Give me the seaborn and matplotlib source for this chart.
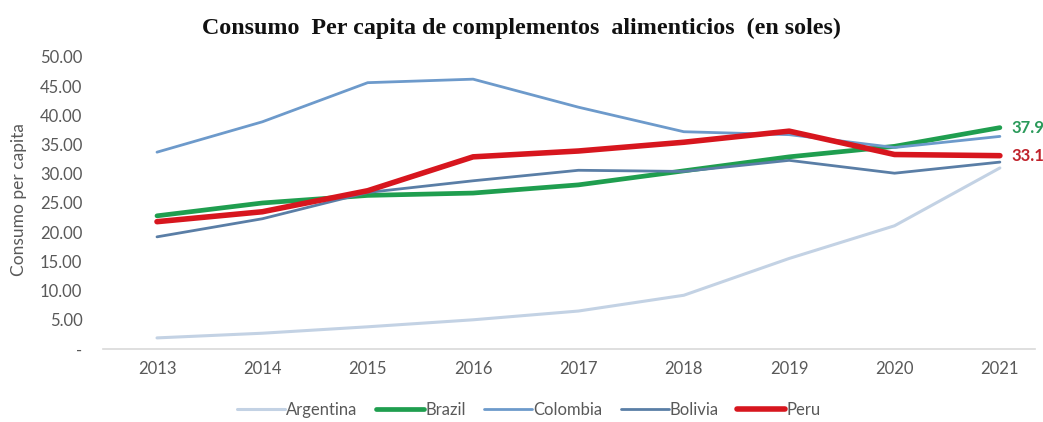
import matplotlib
matplotlib.use("Agg")
import matplotlib.pyplot as plt
import seaborn as sns
import pandas as pd

years = [2013, 2014, 2015, 2016, 2017, 2018, 2019, 2020, 2021]
argentina = [1.9, 2.7, 3.8, 5.0, 6.5, 9.2, 15.5, 21.1, 31.0]
brazil = [22.8, 25.0, 26.3, 26.7, 28.1, 30.5, 32.9, 34.7, 37.9]
colombia = [33.7, 38.9, 45.6, 46.2, 41.4, 37.2, 36.7, 34.5, 36.4]
bolivia = [19.2, 22.3, 26.8, 28.8, 30.6, 30.4, 32.3, 30.1, 32.0]
peru = [21.8, 23.5, 27.1, 32.9, 33.9, 35.4, 37.3, 33.3, 33.1]

series_names = ["Argentina", "Brazil", "Colombia", "Bolivia", "Peru"]
series_values = [argentina, brazil, colombia, bolivia, peru]
colors = ["#c3d2e4", "#1f9e4f", "#6d9acb", "#5a7ea6", "#d7161e"]
widths = [2.2, 3.4, 2.0, 2.0, 4.0]

title = "Consumo  Per capita de complementos  alimenticios  (en soles)"
y_label = "Consumo per capita"
y_ticks = [0, 5, 10, 15, 20, 25, 30, 35, 40, 45, 50]
y_tick_labels = ["-", "5.00", "10.00", "15.00", "20.00", "25.00", "30.00",
                 "35.00", "40.00", "45.00", "50.00"]

df = pd.DataFrame({
    "year": years * len(series_names),
    "value": sum(series_values, []),
    "country": [n for n in series_names for _ in years],
})

sns.set_theme(style="white")
plt.rcParams["font.family"] = ["Lato", "DejaVu Sans"]
grey = "#595959"
fs = 12

fig = plt.figure(figsize=(10.43, 4.22), dpi=100)
ax = fig.add_axes([0.099, 0.173, 0.893, 0.692])

handles = []
for name, col, lw in zip(series_names, colors, widths):
    sns.lineplot(data=df[df["country"] == name], x="year", y="value",
                 color=col, linewidth=lw, ax=ax, legend=False,
                 solid_capstyle="round", solid_joinstyle="round")
    handles.append(ax.lines[-1])

ax.set_xlim(2012.49, 2021.33)
ax.set_ylim(0, 50)
ax.set_xticks(years)
ax.set_xticklabels([str(y) for y in years], color=grey, fontsize=fs)
ax.set_yticks(y_ticks)
ax.set_yticklabels(y_tick_labels, color=grey, fontsize=fs)
ax.tick_params(axis="x", length=0, pad=9)
ax.tick_params(axis="y", length=0, pad=15)
ax.set_xlabel("")
ax.set_ylabel(y_label, color=grey, fontsize=12.5)
ax.yaxis.set_label_coords(-0.082, 0.51)

for side in ["top", "right", "left"]:
    ax.spines[side].set_visible(False)
ax.spines["bottom"].set_color("#d9d9d9")
ax.spines["bottom"].set_linewidth(1.2)

# end-of-line value labels
ax.annotate(f"{brazil[-1]:.1f}", (years[-1], brazil[-1]), xytext=(8, 0),
            textcoords="offset points", va="center", ha="left",
            color="#2a9a5a", fontsize=12, fontweight="bold")
ax.annotate(f"{peru[-1]:.1f}", (years[-1], peru[-1]), xytext=(8, 0),
            textcoords="offset points", va="center", ha="left",
            color="#c0222b", fontsize=12, fontweight="bold")

fig.text(0.5, 0.933, title, ha="center", va="center",
         fontsize=17.3, fontweight="bold", family="Liberation Serif",
         color="#111111")

fig.legend(handles, series_names, loc="center", bbox_to_anchor=(0.507, 0.028),
           ncol=5, frameon=False, fontsize=fs, handlelength=2.9,
           handletextpad=0.05, columnspacing=1.1, labelcolor=grey)

fig.savefig("out.png", dpi=100)
